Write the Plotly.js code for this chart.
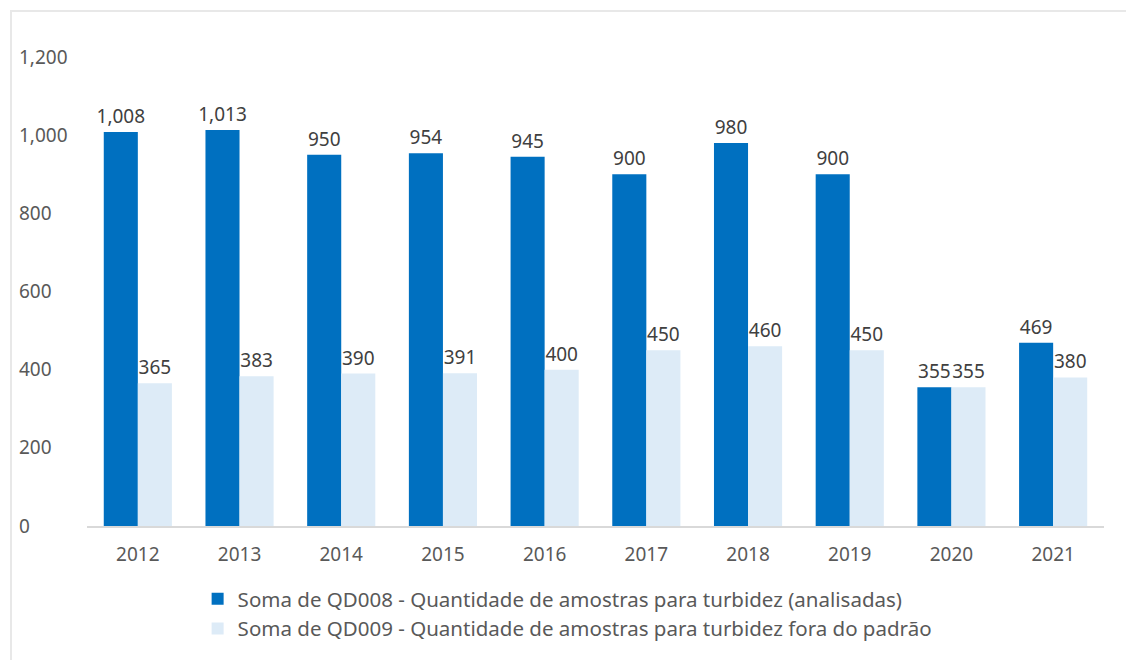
<!DOCTYPE html>
<html>
<head>
<meta charset="utf-8">
<script src="https://cdn.plot.ly/plotly-3.0.1.min.js"></script>
<style>
html,body{margin:0;padding:0;background:#fff;}
#chart{position:absolute;left:10px;top:10px;width:1114px;height:648px;border-top:2px solid #e8e8e8;border-left:2px solid #e8e8e8;}
</style>
</head>
<body>
<div id="chart"></div>
<script>
var years = ["2012","2013","2014","2015","2016","2017","2018","2019","2020","2021"];
var analisadas = [1008,1013,950,954,945,900,980,900,355,469];
var foraPadrao = [365,383,390,391,400,450,460,450,355,380];
var yTicks = [0,200,400,600,800,1000,1200];
var seriesNames = [
  "Soma de QD008 - Quantidade de amostras para turbidez (analisadas)",
  "Soma de QD009 - Quantidade de amostras para turbidez fora do padrão"
];

var fontFam = "Noto Sans, sans-serif";
var t1 = {
  type:"bar", x:years, y:analisadas, name:seriesNames[0],
  marker:{color:"#0070C0"},
  text:analisadas, texttemplate:"%{y:,}", textposition:"outside",
  textfont:{family:fontFam,size:19,color:"#404040"},
  cliponaxis:false, constraintext:"none", hoverinfo:"skip"
};
var t2 = {
  type:"bar", x:years, y:foraPadrao, name:seriesNames[1],
  marker:{color:"#DDEBF7"},
  text:foraPadrao, texttemplate:"%{y:,}", textposition:"outside",
  textfont:{family:fontFam,size:19,color:"#404040"},
  cliponaxis:false, constraintext:"none", hoverinfo:"skip"
};
var layout = {
  width:1114, height:648,
  margin:{l:3,r:22,t:45,b:134},
  paper_bgcolor:"#fff", plot_bgcolor:"#fff",
  font:{family:fontFam,size:18,color:"#595959"},
  barmode:"group", bargap:0.33, bargroupgap:0,
  showlegend:true,
  legend:{orientation:"v", x:0.507, xanchor:"center", y:-0.113, yanchor:"top",
          font:{family:fontFam,size:20.5,color:"#595959"}, tracegroupgap:0, itemwidth:30},
  xaxis:{type:"category", domain:[0.0661,1], showgrid:false, showline:true, linecolor:"#d9d9d9", linewidth:1.5,
         ticks:"", tickangle:0, tickfont:{family:fontFam,size:19,color:"#595959"}, ticklabelstandoff:11},
  yaxis:{range:[0,1200], tickvals:yTicks, tickformat:",", showgrid:false, zeroline:false, showline:false,
         anchor:"free", position:0, ticklabelposition:"inside", ticklabeloverflow:"allow", ticks:"",
         tickfont:{family:fontFam,size:19,color:"#595959"}}
};
Plotly.newPlot("chart",[t1,t2],layout,{displayModeBar:false,staticPlot:true});
</script>
</body>
</html>
